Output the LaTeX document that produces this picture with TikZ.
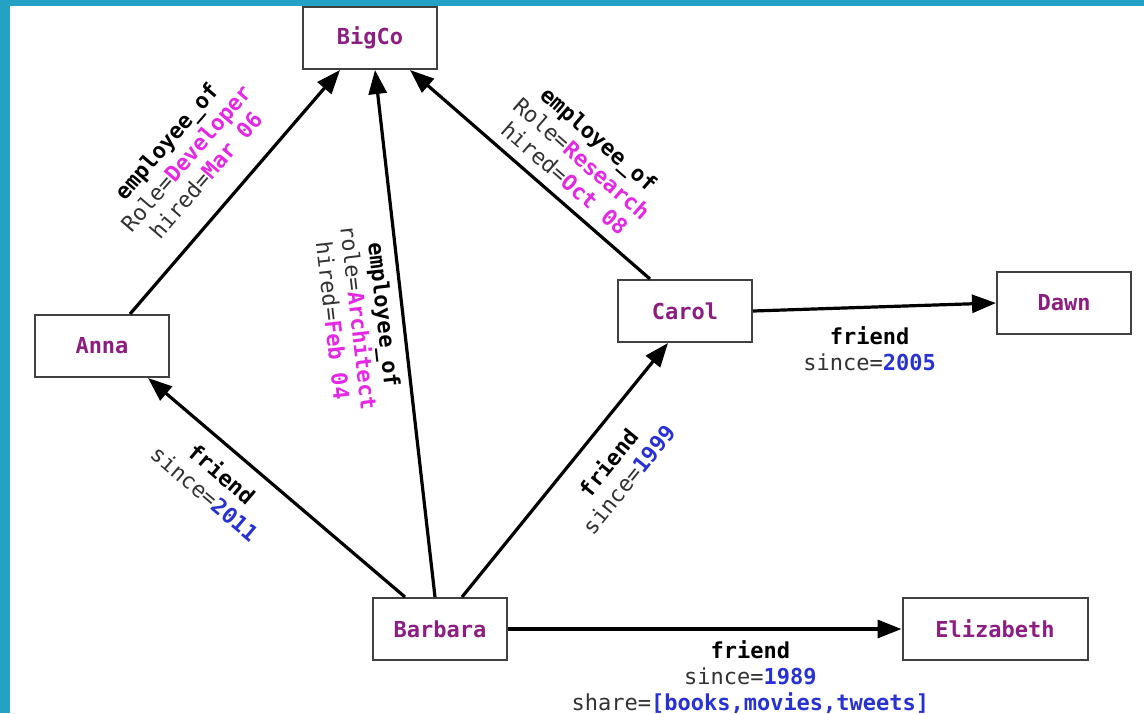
\documentclass[tikz,border=0pt]{standalone}
\usepackage{fontspec}
\setmonofont{DejaVu Sans Mono}
\usetikzlibrary{arrows.meta, positioning}

\definecolor{framecol}{RGB}{35,162,197}
\definecolor{namecol}{RGB}{140,30,130}
\definecolor{magcol}{RGB}{228,40,228}
\definecolor{bluecol}{RGB}{40,50,210}
\definecolor{keycol}{RGB}{50,50,50}

\newcommand{\relname}[1]{\textbf{\color{black}#1}}
\newcommand{\magval}[1]{\textbf{\color{magcol}#1}}
\newcommand{\blueval}[1]{\textbf{\color{bluecol}#1}}

\begin{document}
\begin{tikzpicture}[x=1pt, y=-1pt,
    entity/.style={draw=black!75, line width=2pt, fill=white, minimum
      width=134pt, minimum height=62pt, inner sep=0pt, text=namecol,
      font=\fontsize{22}{26}\selectfont\ttfamily\bfseries},
    rel/.style={line width=3.2pt, -{Triangle[length=24pt, width=18pt]}},
    lbl/.style={inner sep=0pt, align=center, text=keycol,
      font=\fontsize{22}{26}\selectfont\ttfamily}]
      % frame
      \useasboundingbox (0,0) rectangle (1144,713);%
      \fill [framecol] (0,0) rectangle (1144,713);%
      \fill [white] (10,6) rectangle (1144,713);%

      % People and company
      \node [entity] (BigCo) at (370,38) {BigCo};%
      \node [entity] (Anna) at (102,346) {Anna};%
      \node [entity] (Carol) at (685,311) {Carol};%
      \node [entity] (Dawn) at (1064,303) {Dawn};%
      \node [entity] (Barbara) at (440,629) {Barbara};%
      \node [entity, minimum width=185pt] (Elizabeth) at (995,629)
      {Elizabeth};%

      % employee_of
      \draw [rel] ([xshift=28pt]Anna.north) -- node [lbl, sloped, pos=0.48,
      above=23pt] (AnnaJob) {\relname{employee\_of}\\Role=\magval{Developer}\\
        hired=\magval{Mar 06}} ([xshift=-30pt]BigCo.south);%
      \draw [rel] ([xshift=-5pt]Barbara.north) -- node [lbl, sloped,
      pos=0.54, below=8pt] (BarbaraJob) {\relname{employee\_of}\\
        role=\magval{Architect}\\hired=\magval{Feb 04}}
      ([xshift=5pt]BigCo.south);%
      \draw [rel] ([xshift=-35pt]Carol.north) -- node [lbl, sloped, pos=0.41,
      above=10pt] (CarolJob) {\relname{employee\_of}\\Role=\magval{Research}\\
        hired=\magval{Oct 08}} ([xshift=40pt]BigCo.south);%

      % friends
      \draw [rel] ([xshift=-35pt]Barbara.north) -- node [lbl, sloped,
      pos=0.65, below=14pt] (BarbaraAnna) {\relname{friend}\\
        since=\blueval{2011}} ([xshift=46pt]Anna.south);%
      \draw [rel] ([xshift=22pt]Barbara.north) -- node [lbl, sloped,
      pos=0.6, below=18pt] (BarbaraCarol) {\relname{friend}\\
        since=\blueval{1999}} ([xshift=-17pt]Carol.south);%
      \draw [rel] (Carol.east) -- node [lbl, pos=0.48, below=18pt]
      (CarolDawn) {\relname{friend}\\since=\blueval{2005}} (Dawn.west);%
      \draw [rel] (Barbara.east) -- node [lbl, pos=0.616, below=10pt]
      (BarbaraEliz) {\relname{friend}\\since=\blueval{1989}\\
        share=\blueval{[books,movies,tweets]}} (Elizabeth.west);%
\end{tikzpicture}
\end{document}
